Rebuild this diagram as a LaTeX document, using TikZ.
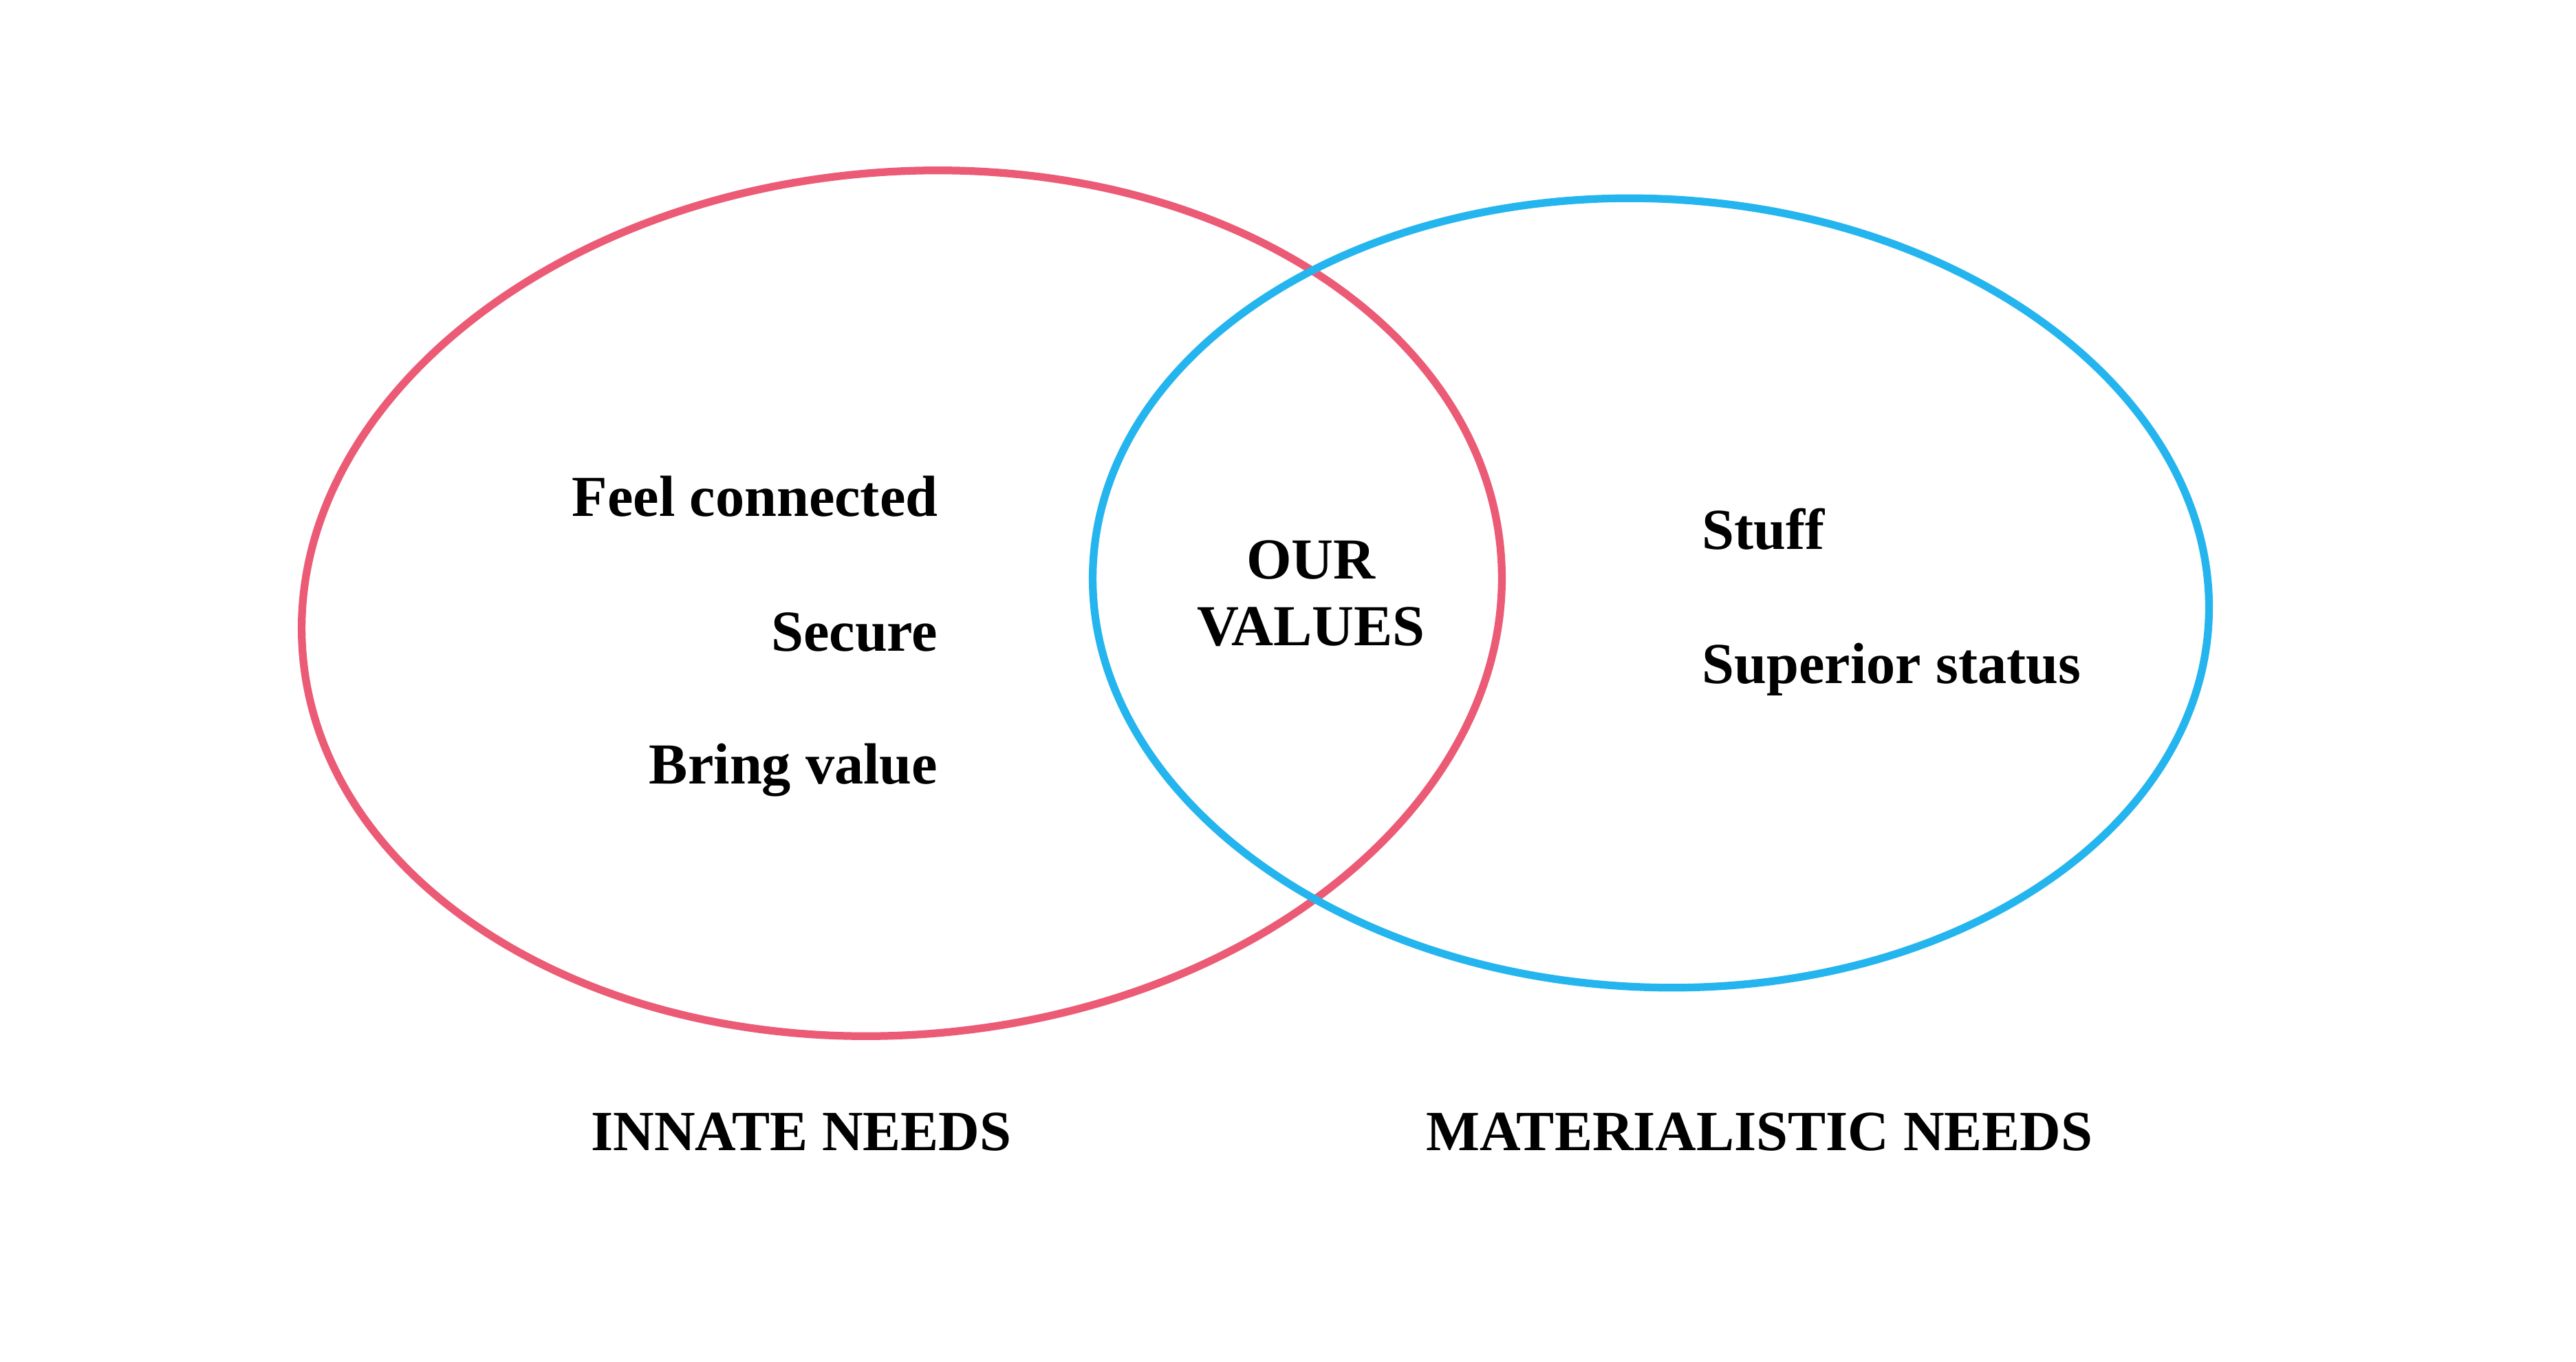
\documentclass[tikz,border=0pt]{standalone}
\usepackage{fontspec}
\setmainfont{Liberation Serif}
\usepackage{tikz}
\usetikzlibrary{shapes,positioning}

\definecolor{innatered}{HTML}{EC5B75}
\definecolor{materialblue}{HTML}{25B5EE}

\begin{document}
\begin{tikzpicture}[
  needset/.style={ellipse, draw, line width=3.2pt, inner sep=0pt},
  item/.style={font=\fontsize{24}{27.5}\selectfont\bfseries, inner sep=0pt},
  caption/.style={font=\fontsize{23.5}{27}\selectfont\bfseries, inner sep=0pt, anchor=base}
]
  \useasboundingbox (0,0) rectangle (37.45,19.79);

  % Sets
  \node[needset, draw=innatered, minimum width=17.48cm, minimum height=12.54cm, rotate=5] (innate) at (13.11,11.02) {};
  \node[needset, draw=materialblue, minimum width=16.24cm, minimum height=11.46cm, rotate=-3] (material) at (24.00,11.17) {};

  % Innate needs
  \node[item, anchor=base east] (connected) at (13.64,12.29) {Feel connected};
  \node[item, anchor=base east] (secure) at (13.64,10.33) {Secure};
  \node[item, anchor=base east] (bring) at (13.64,8.40) {Bring value};

  % Overlap
  \node[item, anchor=base, align=center] (values) at (19.06,10.41) {OUR\\VALUES};

  % Materialistic needs
  \node[item, anchor=base west] (stuff) at (24.74,11.81) {Stuff};
  \node[item, anchor=base west] (status) at (24.74,9.86) {Superior status};

  % Captions
  \node[caption] (innatelabel) at (11.65,3.07) {INNATE NEEDS};
  \node[caption] (materiallabel) at (25.58,3.07) {MATERIALISTIC NEEDS};
\end{tikzpicture}
\end{document}
